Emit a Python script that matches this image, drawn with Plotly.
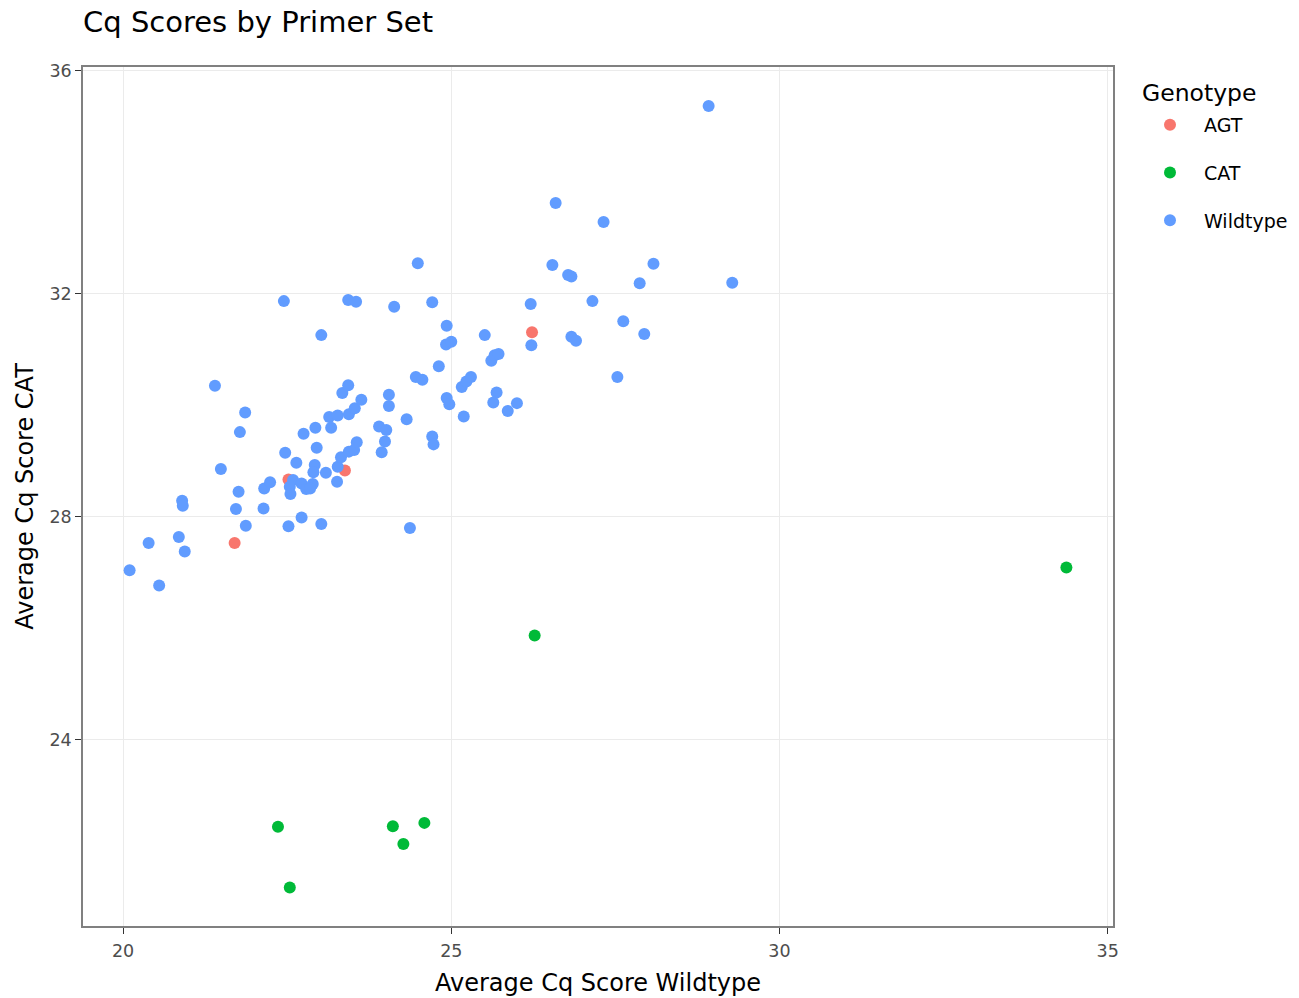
import plotly.graph_objects as go

# ---- data ----
genotypes = ["AGT", "CAT", "Wildtype"]
colors = ["#F8766D", "#00BA38", "#619CFF"]

agt_x = [21.70, 22.52, 23.38, 26.23]
agt_y = [27.53, 28.67, 28.83, 31.31]

cat_x = [22.36, 22.54, 24.11, 24.27, 24.59, 26.27, 34.37]
cat_y = [22.44, 21.35, 22.45, 22.13, 22.51, 25.87, 27.09]

wt_x = [20.10, 20.55, 20.39, 20.85, 20.94, 20.90, 20.91, 21.40, 21.49, 21.72,
        21.76, 21.78, 21.86, 21.87, 22.14, 22.15, 22.24, 22.45, 22.47, 22.52,
        22.59, 22.54, 22.55, 22.64, 22.72, 22.79, 22.89, 22.85, 22.72, 22.75,
        22.93, 22.95, 22.92, 22.90, 23.09, 23.02, 23.02, 23.14, 23.17, 23.27,
        23.26, 23.27, 23.32, 23.34, 23.43, 23.43, 23.55, 23.44, 23.53, 23.63,
        23.44, 23.52, 23.56, 23.90, 24.01, 23.99, 23.94, 24.05, 24.05, 24.13,
        24.32, 24.37, 24.49, 24.46, 24.56, 24.71, 24.71, 24.73, 24.81, 24.93,
        24.92, 25.00, 24.93, 24.97, 25.16, 25.23, 25.30, 25.19, 25.51, 25.61,
        25.66, 25.72, 25.69, 25.64, 26.00, 25.86, 26.21, 26.22, 26.54, 26.59,
        26.78, 26.83, 26.83, 26.90, 27.15, 27.32, 27.53, 27.62, 27.87, 27.94,
        28.08, 28.92, 29.28]
wt_y = [27.04, 26.77, 27.53, 27.64, 27.38, 28.29, 28.20, 30.35, 28.86, 28.14,
        28.45, 29.52, 29.87, 27.84, 28.15, 28.51, 28.62, 31.87, 29.15, 27.83,
        28.66, 28.54, 28.41, 28.97, 28.60, 28.50, 28.59, 28.51, 27.99, 29.49,
        29.60, 29.24, 28.93, 28.80, 28.79, 27.87, 31.26, 29.79, 29.60, 29.82,
        28.63, 28.90, 29.07, 30.22, 30.36, 31.89, 31.86, 29.84, 29.95, 30.10,
        29.17, 29.20, 29.34, 29.62, 29.56, 29.35, 29.16, 30.19, 29.99, 31.77,
        29.75, 27.80, 32.55, 30.51, 30.46, 31.85, 29.44, 29.30, 30.70, 31.43,
        31.09, 31.14, 30.13, 30.02, 30.33, 30.43, 30.51, 29.80, 31.26, 30.80,
        30.90, 30.92, 30.23, 30.05, 30.04, 29.90, 31.82, 31.08, 32.52, 33.63,
        32.34, 32.31, 31.23, 31.16, 31.87, 33.29, 30.51, 31.51, 32.19, 31.28,
        32.54, 35.37, 32.20]

x_ticks = [20, 25, 30, 35]
y_ticks = [24, 28, 32, 36]

FONT = "DejaVu Sans"
W, H = 1299, 998
ML, MR, MT, MB = 83, 186, 67, 72
PW = W - ML - MR
PH = H - MT - MB

fig = go.Figure()
for name, col, xs, ys in zip(genotypes, colors,
                             [agt_x, cat_x, wt_x], [agt_y, cat_y, wt_y]):
    fig.add_trace(go.Scatter(
        x=xs, y=ys, mode="markers", name=name, legendgroup=name,
        marker=dict(color=col, size=12, line=dict(width=0)),
    ))

axis_common = dict(
    showgrid=True, gridcolor="#EBEBEB", gridwidth=1.3,
    zeroline=False, automargin=False,
    showline=True, mirror=True, linecolor="#808080", linewidth=1.5,
    ticks="outside", ticklen=6, tickwidth=1.3, tickcolor="#333333",
    tickfont=dict(family=FONT, size=17.5, color="#4D4D4D"),
)

fig.update_layout(
    width=W, height=H,
    margin=dict(l=ML, r=MR, t=MT, b=MB, autoexpand=False),
    paper_bgcolor="white", plot_bgcolor="white",
    font=dict(family=FONT, color="black"),
    title=dict(text="Cq Scores by Primer Set", x=83 / W, xref="container",
               xanchor="left", y=1 - 22 / H, yref="container", yanchor="middle",
               font=dict(family=FONT, size=29, color="black")),
    xaxis=dict(axis_common, range=[19.39, 35.08], tickvals=x_ticks,
               ticklabelstandoff=2,
               title=dict(text="Average Cq Score Wildtype", standoff=14,
                          font=dict(family=FONT, size=24, color="black"))),
    yaxis=dict(axis_common, range=[20.66, 36.07], tickvals=y_ticks,
               title=dict(text="Average Cq Score CAT", standoff=9,
                          font=dict(family=FONT, size=24, color="black"))),
    legend=dict(
        font=dict(family=FONT, size=19, color="black"),
        x=(1136 - ML) / PW, xanchor="left",
        y=1 - (106 - MT) / PH, yanchor="top",
        tracegroupgap=20, itemwidth=58,
    ),
    annotations=[dict(
        text="Genotype", xref="paper", yref="paper",
        x=(1140 - ML) / PW, xanchor="left",
        y=1 - (93 - MT) / PH, yanchor="middle",
        showarrow=False, font=dict(family=FONT, size=23.5, color="black"),
    )],
    showlegend=True,
)

fig.write_html("out.html", config={"displayModeBar": False},
               post_script="document.body.style.margin='0';document.body.style.overflow='hidden';")
